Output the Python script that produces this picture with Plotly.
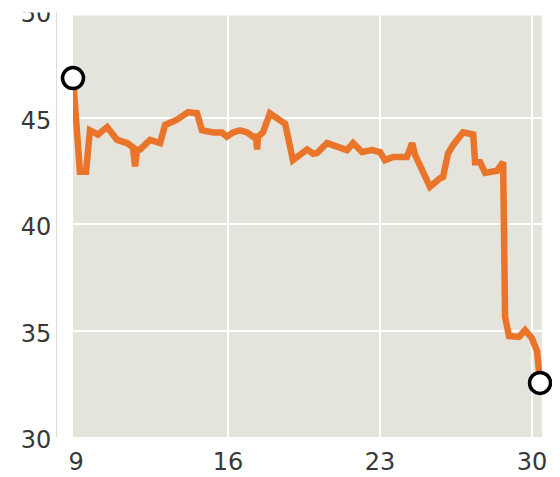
import plotly.graph_objects as go

# (day of month, price)
days = [8.86, 9.18, 9.46, 9.64, 10.01, 10.43, 10.89, 11.35, 11.62, 11.72, 11.81,
        11.95, 12.41, 12.87, 13.10, 13.65, 14.16, 14.34, 14.57, 14.80, 15.31,
        15.72, 15.95, 16.23, 16.55, 16.88, 17.15, 17.29, 17.34, 17.38, 17.61,
        17.93, 18.26, 18.63, 18.99, 19.32, 19.64, 19.92, 20.10, 20.56, 21.02,
        21.48, 21.76, 22.17, 22.63, 23.00, 23.23, 23.60, 24.24, 24.48, 24.61,
        25.30, 25.77, 25.90, 26.13, 26.36, 26.82, 27.29, 27.38, 27.61, 27.84,
        28.39, 28.67, 28.69, 28.76, 28.94, 29.40, 29.68, 29.99, 30.23, 30.37]
prices = [46.85, 42.45, 42.45, 44.4, 44.2, 44.55, 43.95, 43.8, 43.6, 42.7, 43.5,
          43.5, 43.95, 43.8, 44.65, 44.9, 45.25, 45.25, 45.2, 44.4, 44.3,
          44.3, 44.1, 44.3, 44.4, 44.3, 44.1, 44.1, 43.5, 44.1, 44.3,
          45.2, 45.0, 44.7, 43.0, 43.25, 43.5, 43.3, 43.33, 43.8, 43.6,
          43.47, 43.8, 43.38, 43.47, 43.38, 43.0, 43.15, 43.15, 43.8, 43.25,
          41.75, 42.15, 42.2, 43.3, 43.7, 44.3, 44.2, 42.9, 42.9, 42.4,
          42.5, 42.9, 37.04, 35.63, 34.74, 34.7, 35.02, 34.65, 34.04, 32.54]

x_ticks = [9, 16, 23, 30]
x_grid = [16, 23, 30]
y_ticks = [30, 35, 40, 45, 50]

FONT = "DejaVu Sans"
BG = "#e4e3dc"
ORANGE = "#ea7429"

W, H = 552, 469          # page body has an 8px margin
L, R, T, B = 0, 18, 2.5, 40
PW = W - L - R
PH = H - T - B
XD0 = 65 / PW

fig = go.Figure()
fig.add_trace(go.Scatter(x=days, y=prices, mode="lines",
                         line=dict(color=ORANGE, width=6.5),
                         cliponaxis=False, hoverinfo="skip"))
fig.add_trace(go.Scatter(x=[days[0], days[-1]], y=[prices[0], prices[-1]],
                         mode="markers", cliponaxis=False, hoverinfo="skip",
                         marker=dict(size=21, color="white",
                                     line=dict(color="black", width=3.5))))
# overlay axis used only for the vertical grid lines
fig.add_trace(go.Scatter(x=[days[0]], y=[prices[0]], xaxis="x2", mode="lines",
                         line=dict(width=0), hoverinfo="skip"))

fig.update_layout(
    width=W, height=H,
    margin=dict(l=L, r=R, t=T, b=B),
    paper_bgcolor="white", plot_bgcolor=BG,
    showlegend=False,
    font=dict(family=FONT, size=24, color="#383838"),
    xaxis=dict(domain=[XD0, 1], range=[8.86, 30.46], tickvals=x_ticks,
               ticktext=[str(v) for v in x_ticks], showgrid=False,
               zeroline=False, showline=False, ticks="",
               ticklabelstandoff=8, automargin=False, fixedrange=True),
    xaxis2=dict(overlaying="x", matches="x", domain=[XD0, 1], tickvals=x_grid,
                showticklabels=False, showgrid=True, gridcolor="white",
                gridwidth=2, zeroline=False, showline=False, ticks=""),
    yaxis=dict(range=[30, 50], tickvals=y_ticks,
               ticktext=[str(v) for v in y_ticks],
               anchor="free", position=48 / PW, showline=True,
               linecolor="#dcdcdc", linewidth=1, gridcolor="white",
               gridwidth=2, zeroline=False, ticks="", ticklabelshift=3,
               ticklabeloverflow="allow",
               automargin=False, fixedrange=True),
    shapes=[
        dict(type="rect", xref="paper", yref="paper", x0=-0.05, x1=XD0 - 0.001,
             y0=1 - 1.5 / PH, y1=1.05, fillcolor="white", line=dict(width=0),
             layer="above"),
        dict(type="rect", xref="paper", yref="paper", x0=XD0 - 0.001, x1=1.05,
             y0=1 - 4.5 / PH, y1=1.05, fillcolor="white", line=dict(width=0),
             layer="above"),
    ],
)

fig.write_html("out.html")
